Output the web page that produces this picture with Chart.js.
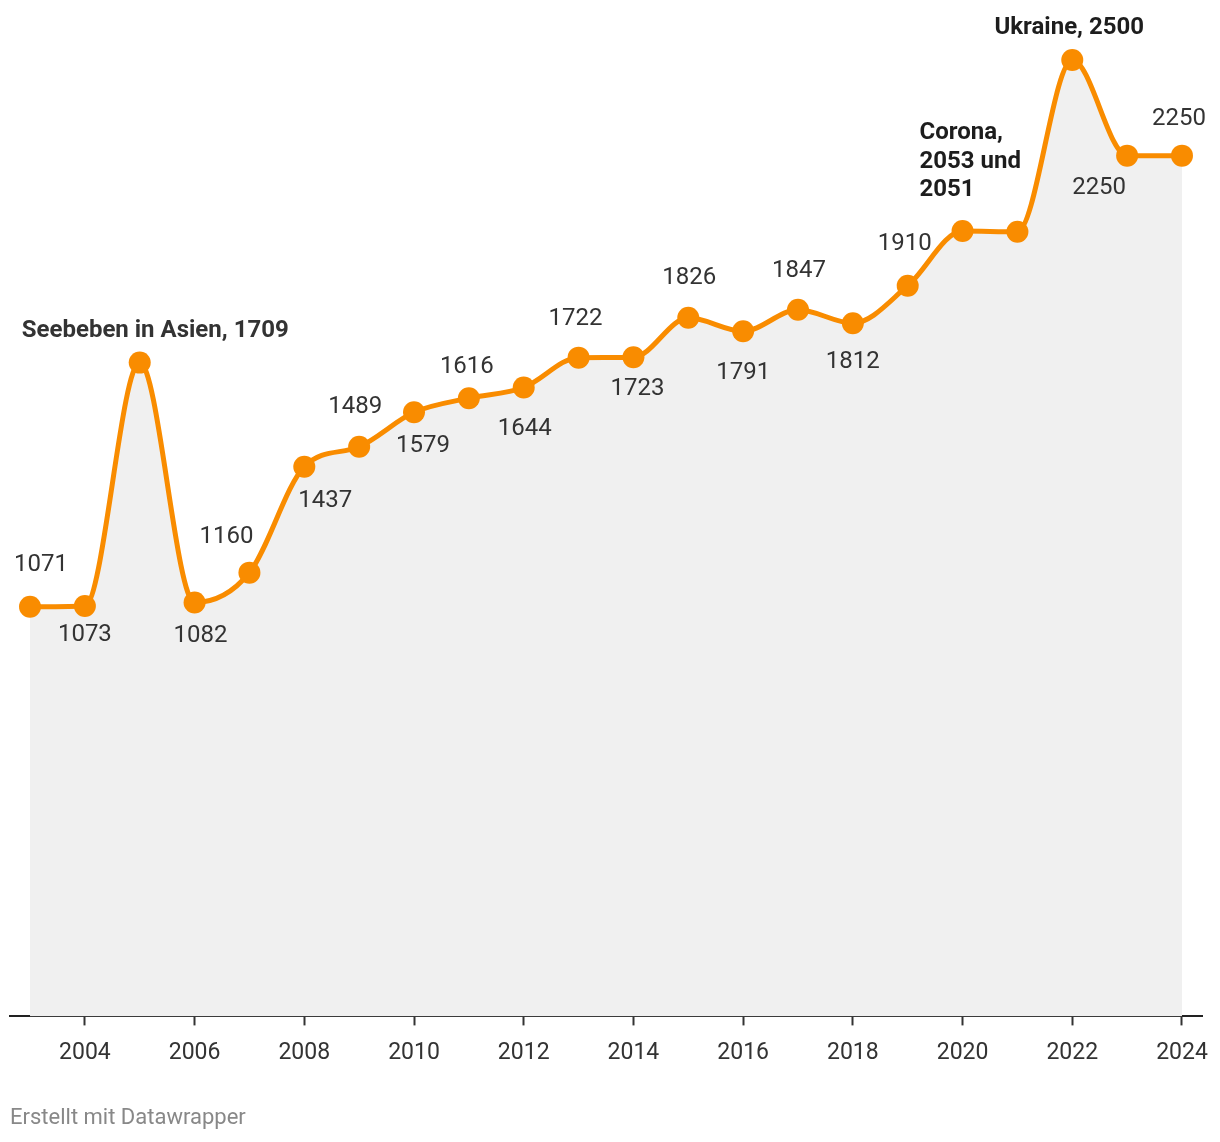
<!DOCTYPE html>
<html>
<head>
<meta charset="utf-8">
<script src="https://cdn.jsdelivr.net/npm/chart.js@4"></script>
<style>
  html, body { margin: 0; padding: 0; background: #fff; }
  #wrap { position: relative; width: 1220px; height: 1142px; }
  #footer { position: absolute; left: 10px; top: 1104px; font: 22px Roboto, sans-serif; color: #888; }
</style>
</head>
<body>
<div id="wrap">
  <canvas id="myCanvas" width="1220" height="1142"></canvas>
  <div id="footer">Erstellt mit Datawrapper</div>
</div>
<script>
const years = [2003, 2004, 2005, 2006, 2007, 2008, 2009, 2010, 2011, 2012, 2013,
  2014, 2015, 2016, 2017, 2018, 2019, 2020, 2021, 2022, 2023, 2024];
const values = [1071, 1073, 1709, 1082, 1160, 1437, 1489, 1579, 1616, 1644, 1722,
  1723, 1826, 1791, 1847, 1812, 1910, 2053, 2051, 2500, 2250, 2250];
const tickYears = [2004, 2006, 2008, 2010, 2012, 2014, 2016, 2018, 2020, 2022, 2024];

// special notes replace the plain number label
const notes = {
  2: ["Seebeben in Asien, 1709"],
  17: ["Corona,", "2053 und", "2051"],
  19: ["Ukraine, 2500"]
};
const hideLabel = [18];

// label offset from the point: [dx, dy, align]
const placement = [
  [11, -42], [0, 29], [-118, -32, "left"], [6, 34], [-23, -36], [21, 34],
  [-4, -40], [9, 34], [-2, -31], [1, 42], [-3, -39], [4, 32], [1, -40],
  [0, 42], [1, -39], [0, 39], [-3, -42], [-43, -98, "left"], [0, 0],
  [-3, -32], [-28, 32], [-3, -37]
];

const orange = "#f98c00";

const labelPlugin = {
  id: "labels",
  afterDatasetsDraw(chart) {
    const ctx = chart.ctx;
    const meta = chart.getDatasetMeta(0);
    ctx.save();
    ctx.textBaseline = "middle";
    for (let i = 0; i < values.length; i++) {
      if (hideLabel.includes(i)) continue;
      const pt = meta.data[i];
      const p = placement[i];
      const x = pt.x + p[0];
      const y = pt.y + p[1];
      ctx.textAlign = p[2] || "center";
      if (notes[i]) {
        ctx.font = "bold 24px Roboto";
        ctx.fillStyle = i == 2 ? "#333" : "#1d1d1d";
        notes[i].forEach((line, k) => ctx.fillText(line, x, y + k * 28.5));
      } else {
        ctx.font = "24px Roboto";
        ctx.fillStyle = "#333";
        ctx.fillText(String(values[i]), x, y);
      }
    }
    ctx.restore();
  }
};

new Chart(document.getElementById("myCanvas"), {
  type: "line",
  data: {
    datasets: [
      {
        data: years.map((y, i) => ({ x: y, y: values[i] })),
        borderColor: orange,
        borderWidth: 5,
        backgroundColor: "#f0f0f0",
        fill: "origin",
        cubicInterpolationMode: "monotone",
        pointRadius: 11,
        pointBackgroundColor: orange,
        pointBorderWidth: 0,
        pointHoverRadius: 11,
        clip: false
      }
    ]
  },
  options: {
    responsive: false,
    animation: false,
    events: [],
    layout: { autoPadding: false, padding: { left: 10, right: 18, top: 60, bottom: 61 } },
    plugins: { legend: { display: false }, tooltip: { enabled: false } },
    scales: {
      x: {
        type: "linear",
        min: 2002.635,
        max: 2024.365,
        afterBuildTicks: (axis) => {
          axis.ticks = tickYears.map((v) => ({ value: v }));
        },
        afterFit: (axis) => {
          axis.paddingLeft = 0;
          axis.paddingRight = 0;
        },
        grid: {
          drawOnChartArea: false,
          drawTicks: true,
          tickLength: 9,
          tickWidth: 2,
          color: "#333"
        },
        border: { display: true, color: "#222", width: 2 },
        ticks: {
          padding: 14,
          color: "#333",
          font: { family: "Roboto", size: 23 },
          maxRotation: 0,
          callback: (v) => String(v)
        }
      },
      y: {
        display: false,
        min: 0,
        max: 2500
      }
    }
  },
  plugins: [labelPlugin]
});
</script>
</body>
</html>
